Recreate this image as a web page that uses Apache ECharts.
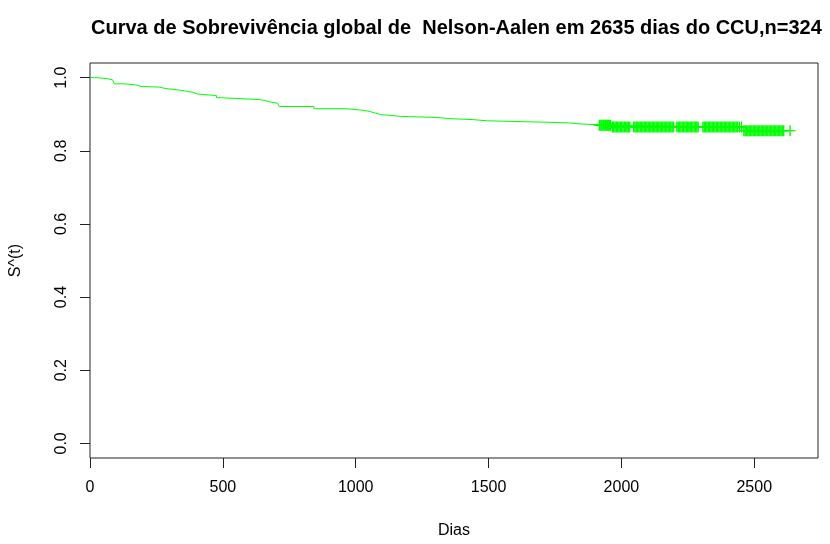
<!DOCTYPE html>
<html>
<head>
<meta charset="utf-8">
<script src="https://cdn.jsdelivr.net/npm/echarts@6/dist/echarts.min.js"></script>
<style>html,body{margin:0;padding:0;background:#fff}#chart{width:830px;height:544px}</style>
</head>
<body>
<div id="chart"></div>
<script>
// Step curve: event times (days) and estimated survival after each step
var eventDays = [0, 22, 66, 85, 92, 129, 173, 192, 261, 286, 336, 355, 386, 405, 476, 495, 637, 662, 681, 706, 712, 843, 965, 1025, 1050, 1069, 1094, 1144, 1169, 1307, 1351, 1445, 1495, 1721, 1808, 1852, 1962, 2458, 2635];
var survival  = [1.000, 0.997, 0.994, 0.990, 0.983, 0.980, 0.976, 0.974, 0.970, 0.966, 0.964, 0.960, 0.955, 0.951, 0.945, 0.940, 0.937, 0.933, 0.930, 0.927, 0.921, 0.915, 0.911, 0.908, 0.904, 0.899, 0.896, 0.894, 0.891, 0.888, 0.885, 0.882, 0.878, 0.876, 0.873, 0.870, 0.865, 0.855, 0.855];

// Censoring times (days), marked with "+"
var censorDays = [
  1917, 1920, 1924, 1927, 1931, 1934, 1938, 1941, 1945, 1948, 1952, 1955, 1959,
  1966, 1971, 1976, 1981, 1986, 1991, 1996, 2001, 2006, 2011, 2016, 2021, 2026, 2031,
  2046, 2051, 2056, 2061, 2066, 2071, 2076, 2081, 2086, 2091, 2096, 2101, 2106, 2111, 2116, 2121, 2126, 2131, 2136, 2141, 2146, 2151, 2156, 2161, 2166, 2171, 2176, 2181, 2186, 2191, 2196,
  2209, 2214, 2219, 2224, 2229, 2234, 2239, 2244, 2249, 2254, 2259, 2264, 2269, 2274, 2279, 2284, 2289,
  2307, 2312, 2317, 2322, 2327, 2332, 2337, 2342, 2347, 2352, 2357, 2362, 2367, 2372, 2377, 2382, 2387, 2392, 2397, 2402, 2407, 2412, 2417, 2422, 2427, 2432, 2436,
  2444, 2452,
  2461, 2466, 2471, 2476, 2481, 2486, 2491, 2496, 2501, 2506, 2511, 2516, 2521, 2526, 2531, 2536, 2541, 2546, 2551, 2556, 2561, 2566, 2571, 2576, 2581, 2586, 2591, 2596, 2601, 2606, 2611,
  2635
];

var xTicks = [0, 500, 1000, 1500, 2000, 2500];
var yTicks = [0, 0.2, 0.4, 0.6, 0.8, 1.0];

var titleText = 'Curva de Sobrevivência global de  Nelson-Aalen em 2635 dias do CCU,n=324';
var xName = 'Dias';
var yName = 'S^(t)';

// survival value at time t (step function, right-continuous)
function survAt(t) {
  var v = survival[0];
  for (var i = 0; i < eventDays.length; i++) {
    if (eventDays[i] <= t) v = survival[i]; else break;
  }
  return v;
}

var lineData = eventDays.map(function (d, i) { return [d, survival[i]]; });
var censorData = censorDays.map(function (d) { return [d, survAt(d)]; });

var plus = 'path://M4.8,0H6.2V4.8H11V6.2H6.2V11H4.8V6.2H0V4.8H4.8Z';
var font = 'Liberation Sans, Arial, sans-serif';

var chart = echarts.init(document.getElementById('chart'), null, { renderer: 'canvas' });
chart.setOption({
  animation: false,
  backgroundColor: '#ffffff',
  title: {
    text: titleText,
    left: 91,
    top: 18,
    padding: 0,
    textStyle: { fontFamily: font, fontWeight: 'bold', fontSize: 20, color: '#000' }
  },
  grid: {
    left: 89, right: 12, top: 63, bottom: 80,
    show: true, borderColor: '#222', borderWidth: 1, backgroundColor: 'transparent'
  },
  xAxis: {
    type: 'value', min: 0, max: 2740,
    name: xName, nameLocation: 'middle', nameGap: 65,
    nameTextStyle: { fontFamily: font, fontSize: 16, color: '#000' },
    axisLine: { show: false, onZero: false },
    axisTick: { show: true, inside: false, length: 10, lineStyle: { color: '#222' }, customValues: xTicks },
    axisLabel: { fontFamily: font, fontSize: 16, color: '#000', margin: 22, customValues: xTicks,
      formatter: function (v) { return String(v); } },
    splitLine: { show: false }
  },
  yAxis: {
    type: 'value', min: -0.04, max: 1.04,
    name: yName, nameLocation: 'middle', nameGap: 66, nameRotate: 90,
    nameTextStyle: { fontFamily: font, fontSize: 16, color: '#000' },
    axisLine: { show: false, onZero: false },
    axisTick: { show: true, inside: false, length: 10, lineStyle: { color: '#222' }, customValues: yTicks },
    axisLabel: { fontFamily: font, fontSize: 16, color: '#000', margin: 20, rotate: 90,
      customValues: yTicks, formatter: function (v) { return v.toFixed(1); } },
    splitLine: { show: false }
  },
  series: [
    {
      type: 'line', data: lineData, step: 'end', showSymbol: false, symbol: 'none',
      lineStyle: { color: '#00ff00', width: 1 }, silent: true
    },
    {
      type: 'scatter', data: censorData, symbol: plus, symbolSize: 11,
      itemStyle: { color: '#00ff00', opacity: 1 }, silent: true
    }
  ]
});
</script>
</body>
</html>
